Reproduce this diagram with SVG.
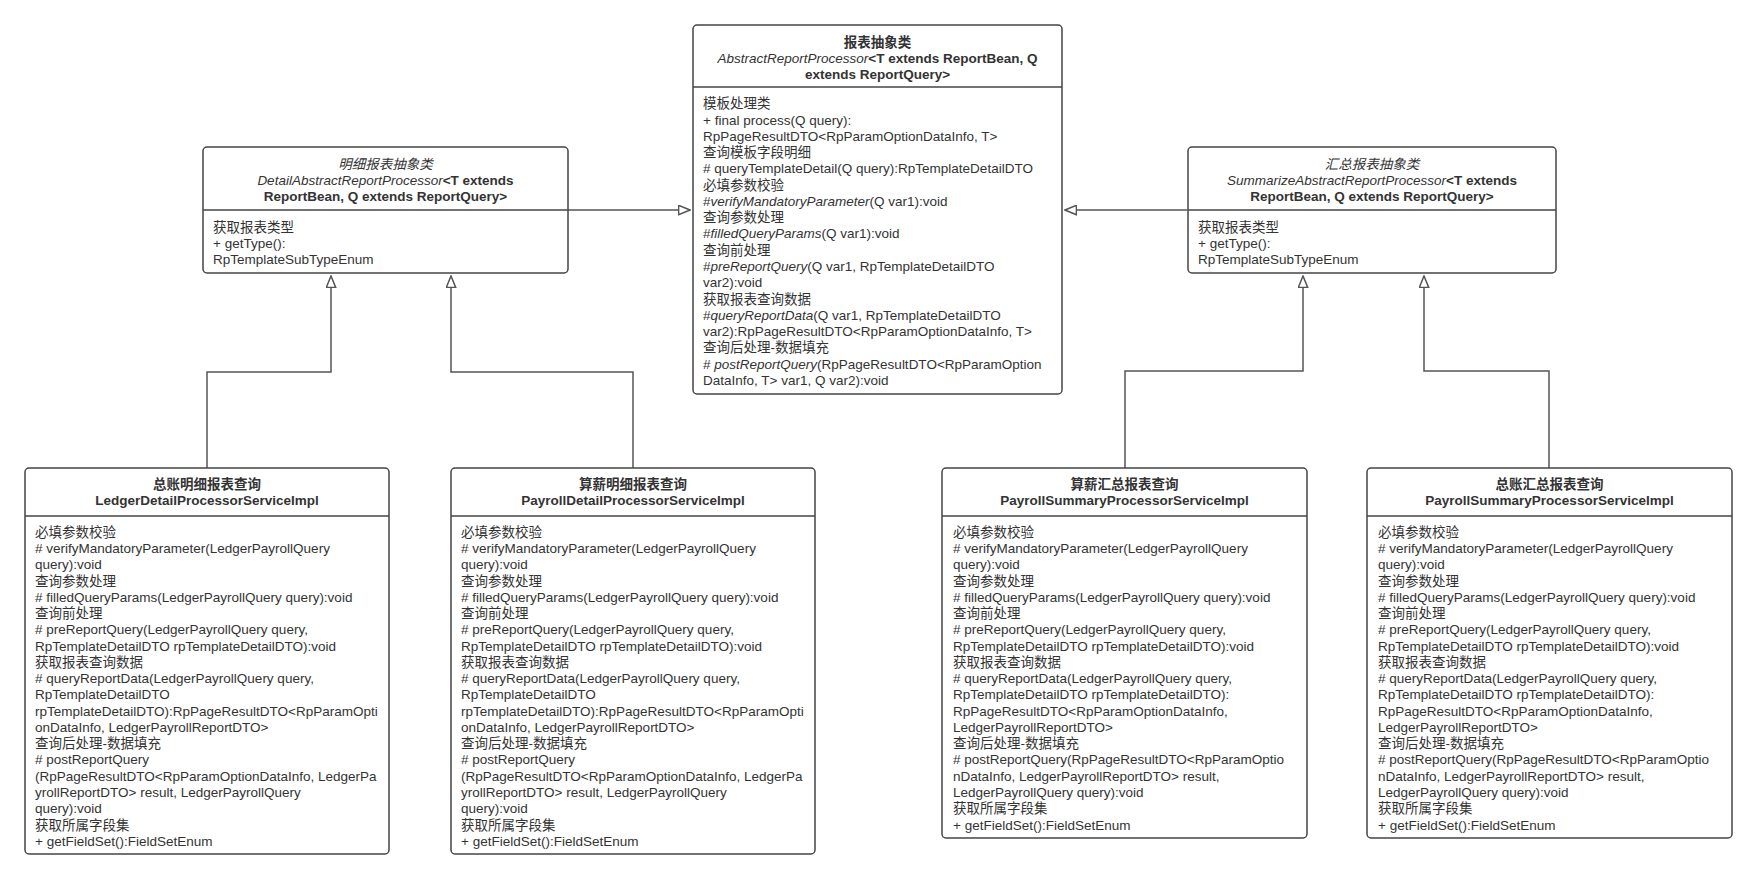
<svg xmlns="http://www.w3.org/2000/svg" width="1757" height="879" viewBox="0 0 1757 879">
<style>
.box{fill:#fff;stroke:#444;stroke-width:1.5}
.sep{stroke:#444;stroke-width:1.5}
.con{fill:none;stroke:#555;stroke-width:1.5}
text{font-family:"Liberation Sans","Noto Sans CJK SC",sans-serif;font-size:13.5px;fill:#333}
.b{font-weight:bold;text-anchor:middle}
.i{font-style:italic;font-weight:normal}
</style>
<defs>
<marker id="tri" viewBox="0 0 13 11" markerWidth="13" markerHeight="11" refX="12.2" refY="5.5" orient="auto" markerUnits="userSpaceOnUse">
<path d="M0.8,0.8 L12.2,5.5 L0.8,10.2 z" fill="#fff" stroke="#555" stroke-width="1.5"/>
</marker>
</defs>
<rect width="1757" height="879" fill="#fff"/>

<g id="connectors">
<path class="con" d="M568,210 H690" marker-end="url(#tri)"/>
<path class="con" d="M1187,210 H1065" marker-end="url(#tri)"/>
<path class="con" d="M207,468 V372 H331 V276" marker-end="url(#tri)"/>
<path class="con" d="M633,468 V372 H451 V276" marker-end="url(#tri)"/>
<path class="con" d="M1125,468 V371 H1303 V276" marker-end="url(#tri)"/>
<path class="con" d="M1549,468 V371 H1424 V276" marker-end="url(#tri)"/>
</g>

<g id="abstract-report">
<rect class="box" x="693" y="25" width="369" height="369" rx="4"/>
<line class="sep" x1="693" y1="87" x2="1062" y2="87"/>
<text class="b" x="877.5" y="47">报表抽象类</text>
<text class="b" x="877.5" y="63"><tspan class="i">AbstractReportProcessor</tspan>&lt;T extends ReportBean, Q</text>
<text class="b" x="877.5" y="79">extends ReportQuery&gt;</text>
<text x="703" y="108.3">
<tspan x="703">模板处理类</tspan>
<tspan x="703" dy="16.27">+ final process(Q query):</tspan>
<tspan x="703" dy="16.27">RpPageResultDTO&lt;RpParamOptionDataInfo, T&gt;</tspan>
<tspan x="703" dy="16.27">查询模板字段明细</tspan>
<tspan x="703" dy="16.27"># queryTemplateDetail(Q query):RpTemplateDetailDTO</tspan>
<tspan x="703" dy="16.27">必填参数校验</tspan>
<tspan x="703" dy="16.27">#<tspan class="i">verifyMandatoryParameter</tspan>(Q var1):void</tspan>
<tspan x="703" dy="16.27">查询参数处理</tspan>
<tspan x="703" dy="16.27">#<tspan class="i">filledQueryParams</tspan>(Q var1):void</tspan>
<tspan x="703" dy="16.27">查询前处理</tspan>
<tspan x="703" dy="16.27">#<tspan class="i">preReportQuery</tspan>(Q var1, RpTemplateDetailDTO</tspan>
<tspan x="703" dy="16.27">var2):void</tspan>
<tspan x="703" dy="16.27">获取报表查询数据</tspan>
<tspan x="703" dy="16.27">#<tspan class="i">queryReportData</tspan>(Q var1, RpTemplateDetailDTO</tspan>
<tspan x="703" dy="16.27">var2):RpPageResultDTO&lt;RpParamOptionDataInfo, T&gt;</tspan>
<tspan x="703" dy="16.27">查询后处理-数据填充</tspan>
<tspan x="703" dy="16.27"># <tspan class="i">postReportQuery</tspan>(RpPageResultDTO&lt;RpParamOption</tspan>
<tspan x="703" dy="16.27">DataInfo, T&gt; var1, Q var2):void</tspan>
</text>
</g>

<g id="detail-abstract">
<rect class="box" x="203" y="147" width="365" height="126" rx="4"/>
<line class="sep" x1="203" y1="210" x2="568" y2="210"/>
<text class="b" x="385.5" y="169"><tspan class="i">明细报表抽象类</tspan></text>
<text class="b" x="385.5" y="185"><tspan class="i">DetailAbstractReportProcessor</tspan>&lt;T extends</text>
<text class="b" x="385.5" y="201">ReportBean, Q extends ReportQuery&gt;</text>
<text x="213" y="232">
<tspan x="213">获取报表类型</tspan>
<tspan x="213" dy="16">+ getType():</tspan>
<tspan x="213" dy="16">RpTemplateSubTypeEnum</tspan>
</text>
</g>

<g id="summarize-abstract">
<rect class="box" x="1188" y="147" width="368" height="126" rx="4"/>
<line class="sep" x1="1188" y1="210" x2="1556" y2="210"/>
<text class="b" x="1372" y="169"><tspan class="i">汇总报表抽象类</tspan></text>
<text class="b" x="1372" y="185"><tspan class="i">SummarizeAbstractReportProcessor</tspan>&lt;T extends</text>
<text class="b" x="1372" y="201">ReportBean, Q extends ReportQuery&gt;</text>
<text x="1198" y="232">
<tspan x="1198">获取报表类型</tspan>
<tspan x="1198" dy="16">+ getType():</tspan>
<tspan x="1198" dy="16">RpTemplateSubTypeEnum</tspan>
</text>
</g>

<g id="ledger-detail">
<rect class="box" x="25" y="468" width="364" height="386" rx="4"/>
<line class="sep" x1="25" y1="516" x2="389" y2="516"/>
<text class="b" x="207" y="489">总账明细报表查询</text>
<text class="b" x="207" y="505">LedgerDetailProcessorServiceImpl</text>
<text x="35" y="536.7">
<tspan x="35">必填参数校验</tspan>
<tspan x="35" dy="16.27"># verifyMandatoryParameter(LedgerPayrollQuery</tspan>
<tspan x="35" dy="16.27">query):void</tspan>
<tspan x="35" dy="16.27">查询参数处理</tspan>
<tspan x="35" dy="16.27"># filledQueryParams(LedgerPayrollQuery query):void</tspan>
<tspan x="35" dy="16.27">查询前处理</tspan>
<tspan x="35" dy="16.27"># preReportQuery(LedgerPayrollQuery query,</tspan>
<tspan x="35" dy="16.27">RpTemplateDetailDTO rpTemplateDetailDTO):void</tspan>
<tspan x="35" dy="16.27">获取报表查询数据</tspan>
<tspan x="35" dy="16.27"># queryReportData(LedgerPayrollQuery query,</tspan>
<tspan x="35" dy="16.27">RpTemplateDetailDTO</tspan>
<tspan x="35" dy="16.27">rpTemplateDetailDTO):RpPageResultDTO&lt;RpParamOpti</tspan>
<tspan x="35" dy="16.27">onDataInfo, LedgerPayrollReportDTO&gt;</tspan>
<tspan x="35" dy="16.27">查询后处理-数据填充</tspan>
<tspan x="35" dy="16.27"># postReportQuery</tspan>
<tspan x="35" dy="16.27">(RpPageResultDTO&lt;RpParamOptionDataInfo, LedgerPa</tspan>
<tspan x="35" dy="16.27">yrollReportDTO&gt; result, LedgerPayrollQuery</tspan>
<tspan x="35" dy="16.27">query):void</tspan>
<tspan x="35" dy="16.27">获取所属字段集</tspan>
<tspan x="35" dy="16.27">+ getFieldSet():FieldSetEnum</tspan>
</text>
</g>

<g id="payroll-detail">
<rect class="box" x="451" y="468" width="364" height="386" rx="4"/>
<line class="sep" x1="451" y1="516" x2="815" y2="516"/>
<text class="b" x="633" y="489">算薪明细报表查询</text>
<text class="b" x="633" y="505">PayrollDetailProcessorServiceImpl</text>
<text x="461" y="536.7">
<tspan x="461">必填参数校验</tspan>
<tspan x="461" dy="16.27"># verifyMandatoryParameter(LedgerPayrollQuery</tspan>
<tspan x="461" dy="16.27">query):void</tspan>
<tspan x="461" dy="16.27">查询参数处理</tspan>
<tspan x="461" dy="16.27"># filledQueryParams(LedgerPayrollQuery query):void</tspan>
<tspan x="461" dy="16.27">查询前处理</tspan>
<tspan x="461" dy="16.27"># preReportQuery(LedgerPayrollQuery query,</tspan>
<tspan x="461" dy="16.27">RpTemplateDetailDTO rpTemplateDetailDTO):void</tspan>
<tspan x="461" dy="16.27">获取报表查询数据</tspan>
<tspan x="461" dy="16.27"># queryReportData(LedgerPayrollQuery query,</tspan>
<tspan x="461" dy="16.27">RpTemplateDetailDTO</tspan>
<tspan x="461" dy="16.27">rpTemplateDetailDTO):RpPageResultDTO&lt;RpParamOpti</tspan>
<tspan x="461" dy="16.27">onDataInfo, LedgerPayrollReportDTO&gt;</tspan>
<tspan x="461" dy="16.27">查询后处理-数据填充</tspan>
<tspan x="461" dy="16.27"># postReportQuery</tspan>
<tspan x="461" dy="16.27">(RpPageResultDTO&lt;RpParamOptionDataInfo, LedgerPa</tspan>
<tspan x="461" dy="16.27">yrollReportDTO&gt; result, LedgerPayrollQuery</tspan>
<tspan x="461" dy="16.27">query):void</tspan>
<tspan x="461" dy="16.27">获取所属字段集</tspan>
<tspan x="461" dy="16.27">+ getFieldSet():FieldSetEnum</tspan>
</text>
</g>

<g id="payroll-summary">
<rect class="box" x="942" y="468" width="365" height="370" rx="4"/>
<line class="sep" x1="942" y1="516" x2="1307" y2="516"/>
<text class="b" x="1124.5" y="489">算薪汇总报表查询</text>
<text class="b" x="1124.5" y="505">PayrollSummaryProcessorServiceImpl</text>
<text x="953" y="536.7">
<tspan x="953">必填参数校验</tspan>
<tspan x="953" dy="16.27"># verifyMandatoryParameter(LedgerPayrollQuery</tspan>
<tspan x="953" dy="16.27">query):void</tspan>
<tspan x="953" dy="16.27">查询参数处理</tspan>
<tspan x="953" dy="16.27"># filledQueryParams(LedgerPayrollQuery query):void</tspan>
<tspan x="953" dy="16.27">查询前处理</tspan>
<tspan x="953" dy="16.27"># preReportQuery(LedgerPayrollQuery query,</tspan>
<tspan x="953" dy="16.27">RpTemplateDetailDTO rpTemplateDetailDTO):void</tspan>
<tspan x="953" dy="16.27">获取报表查询数据</tspan>
<tspan x="953" dy="16.27"># queryReportData(LedgerPayrollQuery query,</tspan>
<tspan x="953" dy="16.27">RpTemplateDetailDTO rpTemplateDetailDTO):</tspan>
<tspan x="953" dy="16.27">RpPageResultDTO&lt;RpParamOptionDataInfo,</tspan>
<tspan x="953" dy="16.27">LedgerPayrollReportDTO&gt;</tspan>
<tspan x="953" dy="16.27">查询后处理-数据填充</tspan>
<tspan x="953" dy="16.27"># postReportQuery(RpPageResultDTO&lt;RpParamOptio</tspan>
<tspan x="953" dy="16.27">nDataInfo, LedgerPayrollReportDTO&gt; result,</tspan>
<tspan x="953" dy="16.27">LedgerPayrollQuery query):void</tspan>
<tspan x="953" dy="16.27">获取所属字段集</tspan>
<tspan x="953" dy="16.27">+ getFieldSet():FieldSetEnum</tspan>
</text>
</g>

<g id="ledger-summary">
<rect class="box" x="1367" y="468" width="365" height="370" rx="4"/>
<line class="sep" x1="1367" y1="516" x2="1732" y2="516"/>
<text class="b" x="1549.5" y="489">总账汇总报表查询</text>
<text class="b" x="1549.5" y="505">PayrollSummaryProcessorServiceImpl</text>
<text x="1378" y="536.7">
<tspan x="1378">必填参数校验</tspan>
<tspan x="1378" dy="16.27"># verifyMandatoryParameter(LedgerPayrollQuery</tspan>
<tspan x="1378" dy="16.27">query):void</tspan>
<tspan x="1378" dy="16.27">查询参数处理</tspan>
<tspan x="1378" dy="16.27"># filledQueryParams(LedgerPayrollQuery query):void</tspan>
<tspan x="1378" dy="16.27">查询前处理</tspan>
<tspan x="1378" dy="16.27"># preReportQuery(LedgerPayrollQuery query,</tspan>
<tspan x="1378" dy="16.27">RpTemplateDetailDTO rpTemplateDetailDTO):void</tspan>
<tspan x="1378" dy="16.27">获取报表查询数据</tspan>
<tspan x="1378" dy="16.27"># queryReportData(LedgerPayrollQuery query,</tspan>
<tspan x="1378" dy="16.27">RpTemplateDetailDTO rpTemplateDetailDTO):</tspan>
<tspan x="1378" dy="16.27">RpPageResultDTO&lt;RpParamOptionDataInfo,</tspan>
<tspan x="1378" dy="16.27">LedgerPayrollReportDTO&gt;</tspan>
<tspan x="1378" dy="16.27">查询后处理-数据填充</tspan>
<tspan x="1378" dy="16.27"># postReportQuery(RpPageResultDTO&lt;RpParamOptio</tspan>
<tspan x="1378" dy="16.27">nDataInfo, LedgerPayrollReportDTO&gt; result,</tspan>
<tspan x="1378" dy="16.27">LedgerPayrollQuery query):void</tspan>
<tspan x="1378" dy="16.27">获取所属字段集</tspan>
<tspan x="1378" dy="16.27">+ getFieldSet():FieldSetEnum</tspan>
</text>
</g>
</svg>
